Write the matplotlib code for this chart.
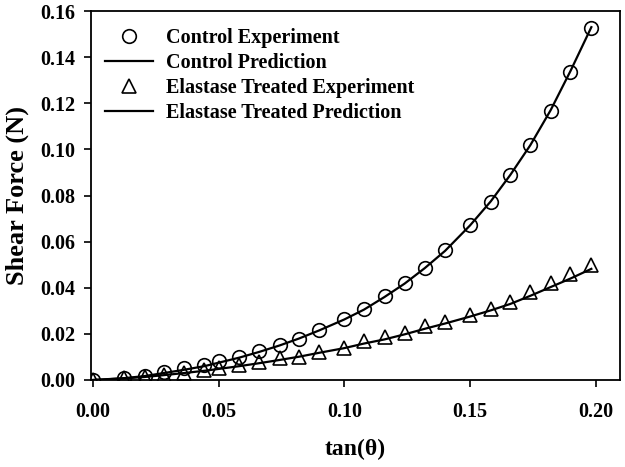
import numpy as np
import matplotlib
matplotlib.use('Agg')
import matplotlib.pyplot as plt

plt.rcParams['font.family'] = ['Liberation Serif', 'DejaVu Serif']
plt.rcParams['font.weight'] = 'bold'

# tan(theta) values of the measured points
tan_theta = [0.0, 0.0124, 0.0205, 0.0281, 0.0361, 0.0443, 0.0500, 0.0582, 0.0662,
             0.0743, 0.0820, 0.0900, 0.0999, 0.1078, 0.1160, 0.1240, 0.1320, 0.1401,
             0.1500, 0.1583, 0.1661, 0.1740, 0.1821, 0.1900, 0.1983]

control_exp = [0.0, 0.0007, 0.0019, 0.0036, 0.0050, 0.0065, 0.0082, 0.0101, 0.0126,
               0.0152, 0.0178, 0.0217, 0.0263, 0.0306, 0.0365, 0.0419, 0.0487, 0.0563,
               0.0672, 0.0773, 0.0888, 0.1018, 0.1167, 0.1336, 0.1528]
control_pred = [0.0, 0.0008, 0.0017, 0.0030, 0.0044, 0.0060, 0.0075, 0.0097, 0.0122,
                0.0150, 0.0180, 0.0215, 0.0262, 0.0305, 0.0360, 0.0418, 0.0485, 0.0560,
                0.0670, 0.0775, 0.0890, 0.1018, 0.1170, 0.1340, 0.1530]

elastase_exp = [0.0, 0.0007, 0.0014, 0.0022, 0.0032, 0.0043, 0.0050, 0.0065, 0.0077,
                0.0094, 0.0101, 0.0123, 0.0137, 0.0170, 0.0185, 0.0202, 0.0234, 0.0250,
                0.0280, 0.0306, 0.0338, 0.0380, 0.0419, 0.0458, 0.0498]
elastase_pred = [0.0, 0.0007, 0.0013, 0.0021, 0.0030, 0.0040, 0.0048, 0.0060, 0.0073,
                 0.0087, 0.0101, 0.0118, 0.0138, 0.0158, 0.0176, 0.0198, 0.0222, 0.0245,
                 0.0275, 0.0302, 0.0330, 0.0365, 0.0403, 0.0440, 0.0482]

fig = plt.figure(figsize=(6.25, 4.67), dpi=100)
ax = fig.add_axes([0.1456, 0.1863, 0.8464, 0.7901])

ax.plot(tan_theta, control_exp, 'o', ms=9.8, mfc='none', mec='black', mew=1.2,
        label='Control Experiment', zorder=3)
ax.plot(tan_theta, control_pred, '-', color='black', lw=1.6, label='Control Prediction')
ax.plot(tan_theta, elastase_exp, '^', ms=9.8, mfc='none', mec='black', mew=1.2,
        label='Elastase Treated Experiment', zorder=3)
ax.plot(tan_theta, elastase_pred, '-', color='black', lw=1.6,
        label='Elastase Treated Prediction')

ax.set_xlim(-0.0008, 0.2097)
ax.set_ylim(0, 0.16)
ax.set_xticks([0.0, 0.05, 0.10, 0.15, 0.20])
ax.set_yticks(np.arange(0, 0.161, 0.02))
ax.xaxis.set_major_formatter(plt.FormatStrFormatter('%.2f'))
ax.yaxis.set_major_formatter(plt.FormatStrFormatter('%.2f'))
ax.tick_params(direction='out', length=5, width=1.2, labelsize=14.5)
ax.tick_params(axis='x', pad=11)
ax.tick_params(axis='y', pad=6)
for lab in ax.get_xticklabels() + ax.get_yticklabels():
    lab.set_fontweight('bold')
for sp in ax.spines.values():
    sp.set_linewidth(1.3)

ax.set_xlabel('tan(θ)', fontsize=17, fontweight='bold', labelpad=12)
ax.set_ylabel('Shear Force (N)', fontsize=19, fontweight='bold', labelpad=8)

leg = ax.legend(loc='upper left', bbox_to_anchor=(0.0, 0.992), frameon=False,
                fontsize=14.5, handlelength=2.4, handletextpad=0.6,
                labelspacing=0.25, borderaxespad=0.3)

fig.savefig('out.png', dpi=100)
